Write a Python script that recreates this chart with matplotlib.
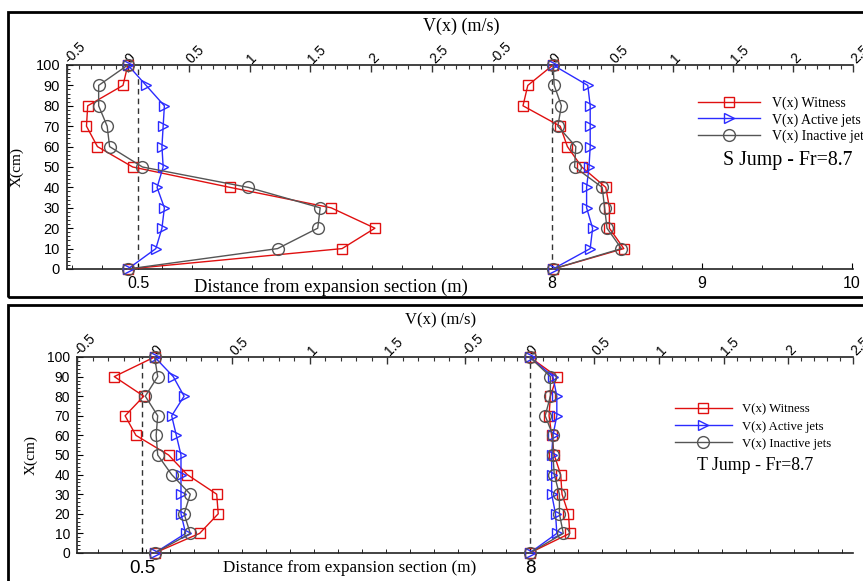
import matplotlib
matplotlib.use('Agg')
import matplotlib.pyplot as plt
import numpy as np
from matplotlib.patches import Rectangle
from matplotlib.ticker import MultipleLocator, FixedLocator
from matplotlib.lines import Line2D

# ---------------- data ----------------
X_cm = [100, 90, 80, 70, 60, 50, 40, 30, 20, 10, 0]

series_names = ["V(x) Witness", "V(x) Active jets", "V(x) Inactive jets"]

# S Jump - station 0.5 m
s05_witness  = [0.00, -0.04, -0.33, -0.34, -0.25, 0.04, 0.84, 1.67, 2.03, 1.76, 0.00]
s05_active   = [0.00, 0.15, 0.30, 0.29, 0.28, 0.29, 0.24, 0.30, 0.28, 0.23, 0.00]
s05_inactive = [0.00, -0.24, -0.24, -0.17, -0.15, 0.12, 0.99, 1.58, 1.56, 1.23, 0.00]
# S Jump - station 8 m
s8_witness  = [0.00, -0.21, -0.25, 0.06, 0.12, 0.24, 0.44, 0.47, 0.47, 0.59, 0.00]
s8_active   = [0.00, 0.29, 0.31, 0.31, 0.31, 0.30, 0.28, 0.28, 0.33, 0.31, 0.00]
s8_inactive = [0.00, 0.01, 0.07, 0.04, 0.19, 0.18, 0.41, 0.43, 0.45, 0.57, 0.00]
# T Jump - station 0.5 m
t05_witness  = [0.00, -0.26, -0.07, -0.19, -0.12, 0.09, 0.21, 0.40, 0.41, 0.29, 0.00]
t05_active   = [0.00, 0.12, 0.19, 0.11, 0.14, 0.17, 0.17, 0.17, 0.17, 0.20, 0.00]
t05_inactive = [0.00, 0.02, -0.06, 0.02, 0.01, 0.02, 0.11, 0.23, 0.19, 0.23, 0.00]
# T Jump - station 8 m
t8_witness  = [0.00, 0.21, 0.16, 0.15, 0.17, 0.19, 0.24, 0.25, 0.30, 0.31, 0.00]
t8_active   = [0.00, 0.18, 0.21, 0.21, 0.18, 0.17, 0.17, 0.17, 0.20, 0.21, 0.00]
t8_inactive = [0.00, 0.16, 0.16, 0.12, 0.18, 0.18, 0.19, 0.23, 0.23, 0.26, 0.00]

v_ticks_s1 = [-0.5, 0, 0.5, 1, 1.5, 2, 2.5]
v_ticks_s2 = [-0.5, 0, 0.5, 1, 1.5, 2, 2.5]
v_ticks_t1 = [-0.5, 0, 0.5, 1, 1.5]
v_ticks_t2 = [-0.5, 0, 0.5, 1, 1.5, 2, 2.5]
dist_labels_s = ["0.5", "8", "9", "10"]
dist_labels_t = ["0.5", "8"]
y_ticks = [0, 10, 20, 30, 40, 50, 60, 70, 80, 90, 100]

# ---------------- style ----------------
SANS = 'Liberation Sans'
SERIF = 'Liberation Serif'
C_RED = '#e01010'
C_BLUE = '#2b2bff'
C_GRAY = '#555555'
styles = [
    dict(color=C_RED, marker='s', ms=6.5),
    dict(color=C_BLUE, marker='>', ms=7.0),
    dict(color=C_GRAY, marker='o', ms=8.5),
]

W, H = 863, 581
fig = plt.figure(figsize=(W / 100, H / 100), dpi=100)


def rect(l, t, r, b):
    return [l / W, 1 - b / H, (r - l) / W, (b - t) / H]


def fmt(v):
    return '%g' % v


def profile_axes(l, t, r, b, xlim, majors, fs):
    ax = fig.add_axes(rect(l, t, r, b))
    ax.patch.set_alpha(0)
    for s in ax.spines.values():
        s.set_visible(False)
    ax.set_xlim(*xlim)
    ax.set_ylim(0, 100)
    ax.xaxis.tick_top()
    ax.xaxis.set_major_locator(FixedLocator(majors))
    ax.xaxis.set_minor_locator(MultipleLocator(0.1))
    ax.set_xticklabels([fmt(m) for m in majors], fontfamily=SANS, fontsize=fs)
    for lab in ax.get_xticklabels():
        lab.set_rotation(45)
        lab.set_rotation_mode('anchor')
        lab.set_ha('left')
        lab.set_va('center')
    ax.tick_params(axis='x', which='major', direction='in', length=5, width=1.0,
                   color='#333333', pad=3)
    ax.tick_params(axis='x', which='minor', direction='in', length=3, width=0.8,
                   color='#333333')
    ax.set_yticks([])
    return ax


def plot_profile(ax, data):
    for vals, st in zip(data, styles):
        ax.plot(vals, X_cm, color=st['color'], lw=1.0, marker=st['marker'],
                ms=st['ms'], mfc='none', mec=st['color'], mew=1.0, clip_on=False,
                zorder=3)


def draw_panel(L, R, T, B, split, xl1, xl2, maj1, maj2, data1, data2,
               st_pos, st_labels, minor_step, dist_fs, tick_fs, vfs):
    bg = fig.add_axes(rect(L, T, R, B))
    bg.patch.set_alpha(0)
    bg.set_xlim(0, 1)
    bg.set_ylim(0, 100)
    bg.spines['right'].set_visible(False)
    for s in ['left', 'bottom', 'top']:
        bg.spines[s].set_linewidth(1.2)
        bg.spines[s].set_color('#222222')
    bg.set_yticks(y_ticks)
    bg.set_yticklabels([str(v) for v in y_ticks], fontfamily=SANS, fontsize=tick_fs)
    bg.yaxis.set_minor_locator(MultipleLocator(2))
    bg.tick_params(axis='y', which='major', direction='in', length=4, pad=5)
    bg.tick_params(axis='y', which='minor', direction='in', length=2)
    pos = [(p - L) / (R - L) for p in st_pos]
    bg.set_xticks(pos)
    bg.set_xticklabels(st_labels, fontfamily=SANS, fontsize=dist_fs)
    step = minor_step / (R - L)
    ref = pos[1]
    mn = [ref + k * step for k in range(-60, 60) if 0 <= ref + k * step <= 1]
    bg.set_xticks(mn, minor=True)
    bg.tick_params(axis='x', which='major', direction='in', length=4, pad=5)
    bg.tick_params(axis='x', which='minor', direction='in', length=3)
    for p in pos[:2]:
        bg.axvline(p, color='#333333', lw=1.0, ls=(0, (4, 3)), zorder=1)

    a1 = profile_axes(L, T, split, B, xl1, maj1, vfs)
    a2 = profile_axes(split, T, R, B, xl2, maj2, vfs)
    plot_profile(a1, data1)
    plot_profile(a2, data2)
    return bg


# ---------------- top panel: S jump ----------------
draw_panel(67, 853, 65, 269, 493, (-0.5, 3.0), (-0.5, 2.5), v_ticks_s1, v_ticks_s2,
           [s05_witness, s05_active, s05_inactive],
           [s8_witness, s8_active, s8_inactive],
           [138, 552, 702, 852], dist_labels_s, 30, 11.5, 10.5, 10)

# ---------------- bottom panel: T jump ----------------
draw_panel(77, 853, 357, 553, 465, (-0.5, 2.0), (-0.5, 2.5), v_ticks_t1, v_ticks_t2,
           [t05_witness, t05_active, t05_inactive],
           [t8_witness, t8_active, t8_inactive],
           [142, 530], dist_labels_t, 24, 13.5, 10, 10)

# ---------------- texts ----------------
def ftext(x, y, s, **kw):
    fig.text(x / W, 1 - y / H, s, **kw)

ftext(461, 26, "V(x) (m/s)", family=SERIF, fontsize=13, ha='center', va='center')
ftext(441, 320, "V(x) (m/s)", family=SERIF, fontsize=12, ha='center', va='center')
ftext(17, 167, "X(cm)", family=SERIF, fontsize=11, ha='center', va='center', rotation=90)
ftext(31, 455, "X(cm)", family=SERIF, fontsize=11, ha='center', va='center', rotation=90)
ftext(331, 287, "Distance from expansion section (m)", family=SERIF, fontsize=13.3,
      ha='center', va='center')
ftext(350, 568, "Distance from expansion section (m)", family=SERIF, fontsize=12.3,
      ha='center', va='center')
ftext(788, 161, "S Jump - Fr=8.7", family=SERIF, fontsize=14.3, ha='center', va='center')
ftext(755, 465, "T Jump - Fr=8.7", family=SERIF, fontsize=12.8, ha='center', va='center')

# legends
handles = [Line2D([0], [0], color=st['color'], lw=1.0, marker=st['marker'],
                  ms=st['ms'], mfc='none', mec=st['color']) for st in styles]
fig.legend(handles, series_names, loc='upper left', bbox_to_anchor=(698 / W, 1 - 96.5 / H),
           frameon=False, prop=dict(family=SERIF, size=10), handlelength=4.46,
           handletextpad=0.86, labelspacing=0.22, borderpad=0, borderaxespad=0,
           numpoints=1)
fig.legend(handles, series_names, loc='upper left', bbox_to_anchor=(675 / W, 1 - 403.5 / H),
           frameon=False, prop=dict(family=SERIF, size=9.2), handlelength=4.46,
           handletextpad=0.78, labelspacing=0.4, borderpad=0, borderaxespad=0,
           numpoints=1)

# panel frames
fig.patches.append(Rectangle((8 / W, 1 - 297 / H), 1.2, (297 - 12) / H,
                             transform=fig.transFigure, fill=False, lw=2.0,
                             ec='black'))
fig.patches.append(Rectangle((8 / W, 1 - 600 / H), 1.2, (600 - 305) / H,
                             transform=fig.transFigure, fill=False, lw=2.0,
                             ec='black'))

fig.savefig('out.png', dpi=100)
